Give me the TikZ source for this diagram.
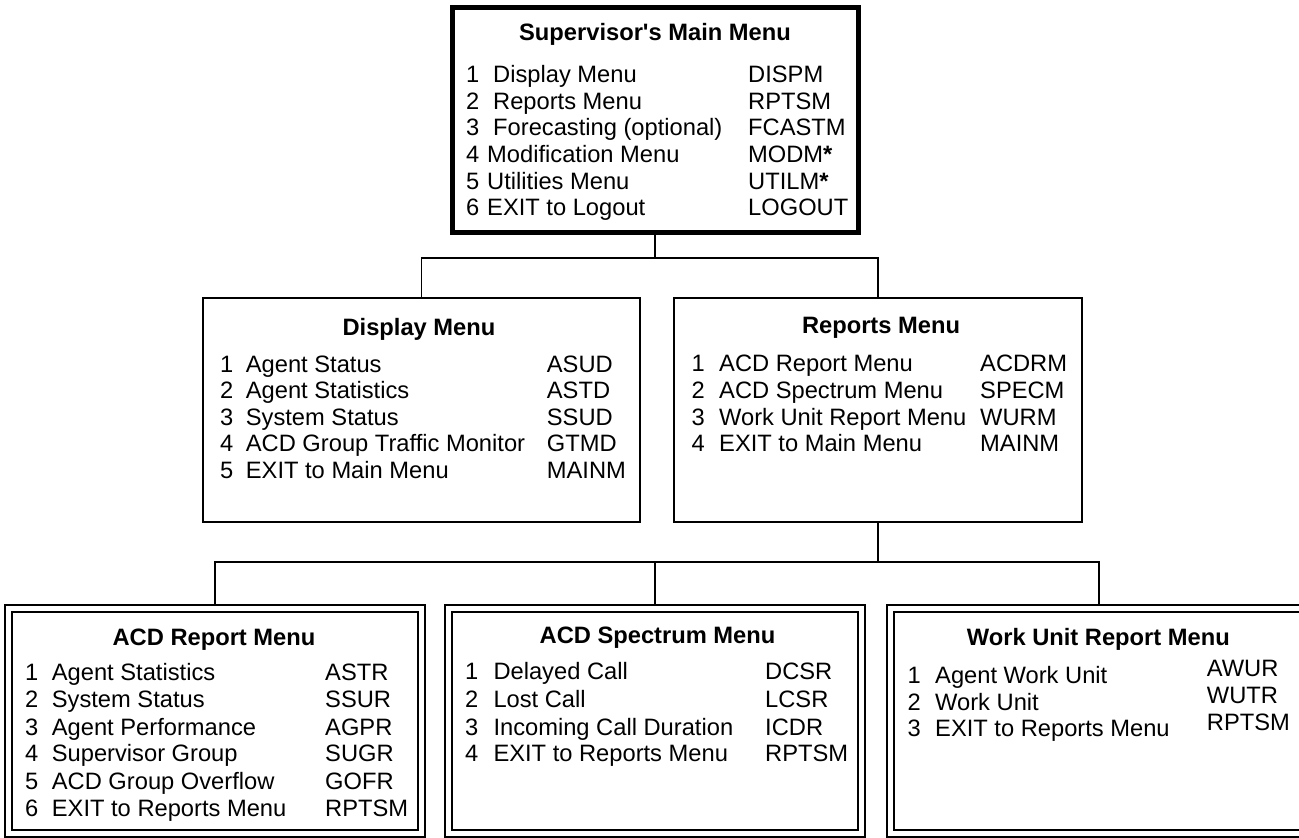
\documentclass[tikz,border=0pt]{standalone}
\usepackage{fontspec}
\setmainfont{Liberation Sans}
\newcommand{\fsz}{\fontsize{23.7}{26}\selectfont}
\begin{document}
\begin{tikzpicture}[x=1pt,y=-1pt,
  mainbox/.style={draw, line width=5pt, fill=white, inner sep=0, outer sep=0},
  menubox/.style={draw, line width=1.8pt, fill=white, inner sep=0, outer sep=0},
  dblbox/.style={draw, line width=1.8pt, double, double distance=4.9pt, inner sep=0, outer sep=0},
  link/.style={line width=1.6pt},
  ttl/.style={anchor=base, inner sep=0, font=\fsz\bfseries},
  lbl/.style={anchor=base west, inner sep=0, font=\fsz}]
\useasboundingbox (0,0) rectangle (1299,838);

% boxes
\node[mainbox, minimum width=406pt, minimum height=225pt] (main) at (655,120) {};
\node[menubox, minimum width=437pt, minimum height=224pt] (disp) at (421.5,410) {};
\node[menubox, minimum width=408pt, minimum height=224pt] (rep) at (878,410) {};
\node[dblbox, minimum width=413.3pt, minimum height=225.3pt] (acd) at (215,721) {};
\node[dblbox, minimum width=413.3pt, minimum height=225.3pt] (spec) at (655,721) {};
\node[dblbox, minimum width=417.3pt, minimum height=225.3pt] (wu) at (1099,721) {};

% connectors
\coordinate (j1) at (655,258);
\coordinate (j2) at (878,562);
\draw[link] (main.south) -- (j1);
\draw[link] (disp.north) |- (j1) -| (rep.north);
\draw[link] (rep.south) -- (j2);
\draw[link, shorten >=3.4pt] (j2) -| (acd.north);
\draw[link, shorten >=3.4pt] (j2) -| (spec.north);
\draw[link, shorten >=3.4pt] (j2) -| (wu.north);

% main menu
\node[ttl] (mt) at (655,40.5) {Supervisor\textquotesingle s Main Menu};
\node[lbl] (m1n) at (466,82.5) {1};  \node[lbl] (m1t) at (493,82.5) {Display Menu};          \node[lbl] (m1c) at (748,82.5) {DISPM};
\node[lbl] (m2n) at (466,109.2) {2}; \node[lbl] (m2t) at (493,109.2) {Reports Menu};         \node[lbl] (m2c) at (748,109.2) {RPTSM};
\node[lbl] (m3n) at (466,135.8) {3}; \node[lbl] (m3t) at (493,135.8) {Forecasting (optional)}; \node[lbl] (m3c) at (748,135.8) {FCASTM};
\node[lbl] (m4n) at (466,162.5) {4}; \node[lbl] (m4t) at (487,162.5) {Modification Menu};    \node[lbl] (m4c) at (748,162.5) {MODM\textbf{*}};
\node[lbl] (m5n) at (466,189.2) {5}; \node[lbl] (m5t) at (487,189.2) {Utilities Menu};       \node[lbl] (m5c) at (748,189.2) {UTILM\textbf{*}};
\node[lbl] (m6n) at (466,215.2) {6}; \node[lbl] (m6t) at (487,215.2) {EXIT to Logout};       \node[lbl] (m6c) at (748,215.2) {LOGOUT};

% display menu
\node[ttl] (dt) at (419,335.2) {Display Menu};
\node[lbl] (d1n) at (220,372.5) {1}; \node[lbl] (d1t) at (245.7,372.5) {Agent Status};               \node[lbl] (d1c) at (546.7,372.5) {ASUD};
\node[lbl] (d2n) at (220,398.5) {2}; \node[lbl] (d2t) at (245.7,398.5) {Agent Statistics};           \node[lbl] (d2c) at (546.7,398.5) {ASTD};
\node[lbl] (d3n) at (220,425.2) {3}; \node[lbl] (d3t) at (245.7,425.2) {System Status};              \node[lbl] (d3c) at (546.7,425.2) {SSUD};
\node[lbl] (d4n) at (220,451.2) {4}; \node[lbl] (d4t) at (245.7,451.2) {ACD Group Traffic Monitor};  \node[lbl] (d4c) at (546.7,451.2) {GTMD};
\node[lbl] (d5n) at (220,478.5) {5}; \node[lbl] (d5t) at (245.7,478.5) {EXIT to Main Menu};          \node[lbl] (d5c) at (546.7,478.5) {MAINM};

% reports menu
\node[ttl] (rt) at (881,333.5) {Reports Menu};
\node[lbl] (r1n) at (691.5,371.8) {1}; \node[lbl] (r1t) at (719,371.8) {ACD Report Menu};       \node[lbl] (r1c) at (980,371.8) {ACDRM};
\node[lbl] (r2n) at (691.5,398.5) {2}; \node[lbl] (r2t) at (719,398.5) {ACD Spectrum Menu};     \node[lbl] (r2c) at (980,398.5) {SPECM};
\node[lbl] (r3n) at (691.5,425.2) {3}; \node[lbl] (r3t) at (719,425.2) {Work Unit Report Menu}; \node[lbl] (r3c) at (980,425.2) {WURM};
\node[lbl] (r4n) at (691.5,451.8) {4}; \node[lbl] (r4t) at (719,451.8) {EXIT to Main Menu};     \node[lbl] (r4c) at (980,451.8) {MAINM};

% ACD report menu
\node[ttl] (at) at (214,645.2) {ACD Report Menu};
\node[lbl] (a1n) at (25,680.2) {1}; \node[lbl] (a1t) at (51.7,680.2) {Agent Statistics};      \node[lbl] (a1c) at (325,680.2) {ASTR};
\node[lbl] (a2n) at (25,707.5) {2}; \node[lbl] (a2t) at (51.7,707.5) {System Status};         \node[lbl] (a2c) at (325,707.5) {SSUR};
\node[lbl] (a3n) at (25,735.2) {3}; \node[lbl] (a3t) at (51.7,735.2) {Agent Performance};     \node[lbl] (a3c) at (325,735.2) {AGPR};
\node[lbl] (a4n) at (25,761.5) {4}; \node[lbl] (a4t) at (51.7,761.5) {Supervisor Group};      \node[lbl] (a4c) at (325,761.5) {SUGR};
\node[lbl] (a5n) at (25,789.2) {5}; \node[lbl] (a5t) at (51.7,789.2) {ACD Group Overflow};    \node[lbl] (a5c) at (325,789.2) {GOFR};
\node[lbl] (a6n) at (25,816.5) {6}; \node[lbl] (a6t) at (51.7,816.5) {EXIT to Reports Menu};  \node[lbl] (a6c) at (325,816.5) {RPTSM};

% ACD spectrum menu
\node[ttl] (st) at (657.5,643.5) {ACD Spectrum Menu};
\node[lbl] (s1n) at (465,679.2) {1}; \node[lbl] (s1t) at (493.3,679.2) {Delayed Call};            \node[lbl] (s1c) at (765,679.2) {DCSR};
\node[lbl] (s2n) at (465,707.8) {2}; \node[lbl] (s2t) at (493.3,707.8) {Lost Call};               \node[lbl] (s2c) at (765,707.8) {LCSR};
\node[lbl] (s3n) at (465,735.2) {3}; \node[lbl] (s3t) at (493.3,735.2) {Incoming Call Duration};  \node[lbl] (s3c) at (765,735.2) {ICDR};
\node[lbl] (s4n) at (465,761.8) {4}; \node[lbl] (s4t) at (493.3,761.8) {EXIT to Reports Menu};    \node[lbl] (s4c) at (765,761.8) {RPTSM};

% work unit report menu
\node[ttl] (wt) at (1098.3,645.2) {Work Unit Report Menu};
\node[lbl] (w1n) at (907.5,683.5) {1}; \node[lbl] (w1t) at (935,683.5) {Agent Work Unit};      \node[lbl] (w1c) at (1206.7,676.8) {AWUR};
\node[lbl] (w2n) at (907.5,710.2) {2}; \node[lbl] (w2t) at (935,710.2) {Work Unit};            \node[lbl] (w2c) at (1206.7,703.5) {WUTR};
\node[lbl] (w3n) at (907.5,736.8) {3}; \node[lbl] (w3t) at (935,736.8) {EXIT to Reports Menu}; \node[lbl] (w3c) at (1206.7,730.2) {RPTSM};
\end{tikzpicture}
\end{document}
